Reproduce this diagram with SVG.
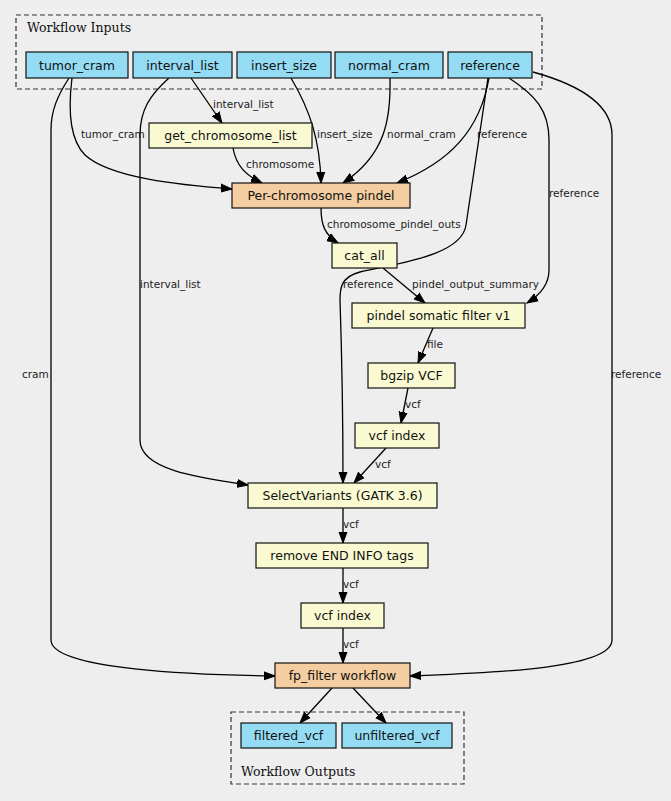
<svg xmlns="http://www.w3.org/2000/svg" width="671" height="801" viewBox="0 0 671 801">
<defs>
<style>
.bg{fill:#eeeeee}
.cl{fill:none;stroke:#333;stroke-width:1.2;stroke-dasharray:5,3}
.ct{font-family:"DejaVu Serif",serif;font-size:12.5px;fill:#111}
.n rect{stroke:#111;stroke-width:1.2}
.in rect{fill:#94dcf4}
.st rect{fill:#fafad2}
.wf rect{fill:#f4cda0}
.n text{font-family:"DejaVu Sans",sans-serif;font-size:12.5px;fill:#111;text-anchor:middle}
.e path{fill:none;stroke:#000;stroke-width:1.3;marker-end:url(#ah)}
.e text{font-family:"DejaVu Sans",sans-serif;font-size:10.5px;fill:#222}
</style>
<marker id="ah" markerUnits="userSpaceOnUse" markerWidth="12" markerHeight="10" viewBox="0 0 12 10" refX="11" refY="5" orient="auto">
<path d="M0,1 L11,5 L0,9 Z" fill="#000" stroke="#000" stroke-width="1"/>
</marker>
</defs>
<rect class="bg" x="0" y="0" width="671" height="801"/>
<g id="cluster_inputs">
<rect class="cl" x="16" y="15" width="526" height="74"/>
<text class="ct" x="27" y="32">Workflow Inputs</text>
</g>
<g id="cluster_outputs">
<rect class="cl" x="231" y="712" width="233" height="72"/>
<text class="ct" x="241" y="776">Workflow Outputs</text>
</g>
<g id="connectors" class="e">
<path d="M72,78 C68,110 70,140 85,155 C110,178 180,185 232,189"/>
<text x="81" y="138">tumor_cram</text>
<path d="M69,78 C58,95 51,110 51,130 L51,640 C51,670 200,675 275,676"/>
<text x="22" y="378">cram</text>
<path d="M191,78 L222,123"/>
<text x="213" y="108">interval_list</text>
<path d="M169,78 C150,95 140,110 140,135 L140,440 C140,470 200,478 248,485"/>
<text x="140" y="288">interval_list</text>
<path d="M291,78 C310,110 320,140 321,183"/>
<text x="317" y="138">insert_size</text>
<path d="M390,78 C391,120 385,155 343,183"/>
<text x="387" y="138">normal_cram</text>
<path d="M489,78 C480,130 450,162 397,183"/>
<text x="477" y="138">reference</text>
<path d="M488,78 L466,225 C462,255 400,263 360,272 C340,277 340,290 340,300 C341,330 343,400 343,483"/>
<text x="343" y="288">reference</text>
<path d="M509,78 C535,95 549,110 549,140 L549,270 C549,285 540,295 527,303"/>
<text x="549" y="197">reference</text>
<path d="M533,72 C580,85 612,105 612,135 L612,640 C612,670 480,673 410,676"/>
<text x="611" y="378">reference</text>
<path d="M233,148 C236,165 245,175 262,183"/>
<text x="246" y="168">chromosome</text>
<path d="M321,208 C321,225 325,235 338,243"/>
<text x="327" y="228">chromosome_pindel_outs</text>
<path d="M383,268 L425,303"/>
<text x="412" y="288">pindel_output_summary</text>
<path d="M433,328 L418,363"/>
<text x="427" y="348">file</text>
<path d="M408,388 L401,423"/>
<text x="405" y="408">vcf</text>
<path d="M386,448 L354,483"/>
<text x="375" y="468">vcf</text>
<path d="M343,508 L343,543"/>
<text x="343" y="528">vcf</text>
<path d="M343,568 L343,603"/>
<text x="343" y="588">vcf</text>
<path d="M343,628 L343,663"/>
<text x="343" y="648">vcf</text>
<path d="M332,688 L300,723"/>
<path d="M353,688 L386,723"/>
</g>
<g id="tumor_cram" class="n in"><rect x="26" y="52" width="102" height="26"/><text x="77" y="69.5">tumor_cram</text></g>
<g id="interval_list" class="n in"><rect x="133" y="52" width="99" height="26"/><text x="182.5" y="69.5">interval_list</text></g>
<g id="insert_size" class="n in"><rect x="237" y="52" width="94" height="26"/><text x="284" y="69.5">insert_size</text></g>
<g id="normal_cram" class="n in"><rect x="335" y="52" width="108" height="26"/><text x="389" y="69.5">normal_cram</text></g>
<g id="reference" class="n in"><rect x="448" y="52" width="84" height="26"/><text x="490" y="69.5">reference</text></g>
<g id="get_chromosome_list" class="n st"><rect x="149" y="123" width="163" height="25"/><text x="230.5" y="140">get_chromosome_list</text></g>
<g id="per_chromosome_pindel" class="n wf"><rect x="232" y="183" width="178" height="25"/><text x="321" y="200">Per-chromosome pindel</text></g>
<g id="cat_all" class="n st"><rect x="332" y="243" width="65" height="25"/><text x="364.5" y="260">cat_all</text></g>
<g id="pindel_somatic_filter" class="n st"><rect x="352" y="303" width="173" height="25"/><text x="438.5" y="320">pindel somatic filter v1</text></g>
<g id="bgzip_vcf" class="n st"><rect x="368" y="363" width="87" height="25"/><text x="411.5" y="380">bgzip VCF</text></g>
<g id="vcf_index_1" class="n st"><rect x="355" y="423" width="84" height="25"/><text x="397" y="440">vcf index</text></g>
<g id="select_variants" class="n st"><rect x="248" y="483" width="189" height="25"/><text x="342.5" y="500">SelectVariants (GATK 3.6)</text></g>
<g id="remove_end_tags" class="n st"><rect x="256" y="543" width="172" height="25"/><text x="342" y="560">remove END INFO tags</text></g>
<g id="vcf_index_2" class="n st"><rect x="301" y="603" width="83" height="25"/><text x="342.5" y="620">vcf index</text></g>
<g id="fp_filter" class="n wf"><rect x="275" y="663" width="135" height="25"/><text x="342.5" y="680">fp_filter workflow</text></g>
<g id="filtered_vcf" class="n in"><rect x="241" y="723" width="95" height="25"/><text x="288.5" y="740">filtered_vcf</text></g>
<g id="unfiltered_vcf" class="n in"><rect x="342" y="723" width="110" height="25"/><text x="397" y="740">unfiltered_vcf</text></g>
</svg>
